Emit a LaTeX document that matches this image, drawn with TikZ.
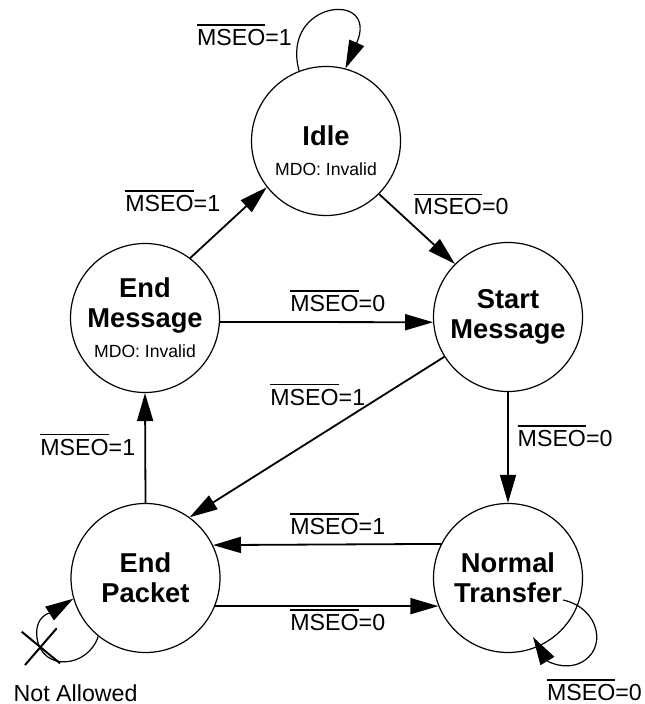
\documentclass[tikz,border=0pt]{standalone}
\usepackage{fontspec}
\setmainfont{Liberation Sans}
\usetikzlibrary{arrows.meta}
\newcommand\mybar[1]{\leavevmode\vbox{\hrule height 0.8pt\kern 1.8pt\hbox{#1}}}
\newcommand\mdofont{\fontsize{8.8}{10}\selectfont\mdseries}
\begin{document}
\begin{tikzpicture}[x=0.5pt,y=-0.5pt,
  state/.style={circle,draw,line width=0.6pt,minimum size=74.5pt,inner sep=0pt,
    align=center,font=\fontsize{13.65}{15}\selectfont\bfseries},
  edge/.style={line width=0.9pt,-{Triangle[length=14pt,width=8pt]}},
  loopline/.style={line width=0.6pt,-{Triangle[length=14pt,width=8pt]}},
  cond/.style={anchor=base west,inner sep=0pt,font=\fontsize{11.6}{14}\selectfont},
  cross/.style={line width=1pt}]
\useasboundingbox (0,0) rectangle (644,704);

% states
\node[state] (idle) at (326,141) {\rule{0pt}{19.7pt}Idle\\{\mdofont MDO: Invalid}};
\node[state] (endmsg) at (145,318) {End\\Message\\{\mdofont MDO: Invalid}};
\node[state] (start) at (508,317) {Start\\Message};
\node[state] (endpkt) at (145.5,578) {End\\Packet};
\node[state] (normt) at (508,578) {Normal\\Transfer};

% transitions
\draw[edge] (idle.-45) -- (start.135);
\draw[edge] (endmsg.53) -- (idle.218);
\draw[edge] (endmsg.-3.6) -- (start.184.4);
\draw[edge] (start.212.6) -- (endpkt.54);
\draw[edge] (start.south) -- (normt.north);
\draw[edge] (endpkt.north) -- (endmsg.south);
\draw[edge] (normt.153.7) -- (endpkt.26.3);
\draw[edge] (endpkt.-22.7) -- (normt.202.7);

% labels
\node[cond] (lidle) at (196.7,45.7) {\mybar{MSEO}=1};
\node[cond] (lemi) at (125,211.7) {\mybar{MSEO}=1};
\node[cond] (lis) at (413.3,215) {\mybar{MSEO}=0};
\node[cond] (lems) at (290,311.7) {\mybar{MSEO}=0};
\node[cond] (lsep) at (270,405) {\mybar{MSEO}=1};
\node[cond] (lsn) at (517.3,446.7) {\mybar{MSEO}=0};
\node[cond] (lepem) at (40,455) {\mybar{MSEO}=1};
\node[cond] (lnep) at (290,534.3) {\mybar{MSEO}=1};
\node[cond] (lepn) at (290,630.7) {\mybar{MSEO}=0};
\node[cond] (lnn) at (546.7,700.7) {\mybar{MSEO}=0};
\node[cond] (na) at (13.3,701.7) {Not Allowed};

% self loops
\draw[loopline] (idle.111.5) .. controls (280,0) and (380,-10) .. (idle.75);
\draw[loopline] (endpkt.231.4) .. controls (88,668) and (42,672) .. (37,638)
  .. controls (34,615) and (52,612) .. (endpkt.196);
\coordinate (nta) at (563,600);
\coordinate (ntb) at (533,637);
\draw[loopline] (nta) .. controls (600,608) and (608,650) .. (580,663)
  .. controls (565,670) and (548,662) .. (ntb);

% not-allowed cross
\coordinate (x1a) at (21.7,631.7);
\coordinate (x1b) at (60,663.3);
\coordinate (x2a) at (56.7,628.3);
\coordinate (x2b) at (25,665);
\draw[cross] (x1a) -- (x1b) (x2a) -- (x2b);
\end{tikzpicture}
\end{document}
